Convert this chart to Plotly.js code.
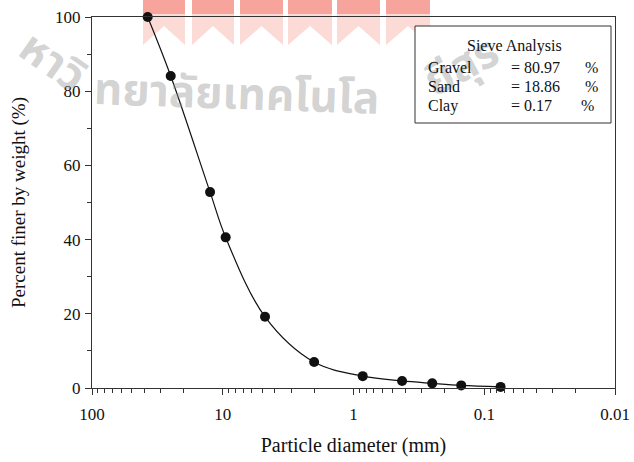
<!DOCTYPE html>
<html>
<head>
<meta charset="utf-8">
<script src="https://cdn.plot.ly/plotly-3.0.1.min.js"></script>
<style>
  html, body { margin: 0; padding: 0; background: #fff; }
  #chart { width: 634px; height: 462px; }
</style>
</head>
<body>
<div id="chart"></div>
<script>
// Sieve sizes (mm) and cumulative percent passing
const sieveSizes = [37.5, 25, 12.5, 9.5, 4.75, 2.0, 0.85, 0.425, 0.25, 0.15, 0.075];
const percentFiner = [100, 84.1, 52.8, 40.6, 19.2, 7.0, 3.2, 1.9, 1.25, 0.7, 0.3];

// Soil fractions shown in the summary box
const fractionNames = ['Gravel', 'Sand', 'Clay'];
const fractionValues = ['80.97', '18.86', '0.17'];

// Tick labels for the decade ticks of the size axis
const decadeTicks = [100, 10, 1, 0.1, 0.01];
const decadeLabels = ['100', '10', '1', '0.1', '0.01'];

const W = 634, H = 462;
const M = { l: 92, r: 19, t: 17, b: 74 };
const plotW = W - M.l - M.r, plotH = H - M.t - M.b;
// pixel -> paper helpers for the decorations
const px = x => (x - M.l) / plotW;
const py = y => (H - M.b - y) / plotH;

const serif = 'Liberation Serif, Times New Roman, serif';
const axisColor = '#333';

const trace = {
  x: sieveSizes,
  y: percentFiner,
  type: 'scatter',
  mode: 'lines+markers',
  line: { color: '#111', width: 1.2, shape: 'spline', smoothing: 1 },
  marker: { color: '#111', size: 10 },
  hoverinfo: 'x+y',
  cliponaxis: false
};

// University banner pennants along the top edge
function pennant(x0, x1, yTop, ySide, yNotch) {
  const xm = (x0 + x1) / 2;
  return 'M ' + px(x0) + ',' + py(yTop) +
         ' L ' + px(x1) + ',' + py(yTop) +
         ' L ' + px(x1) + ',' + py(ySide) +
         ' L ' + px(xm) + ',' + py(yNotch) +
         ' L ' + px(x0) + ',' + py(ySide) + ' Z';
}
const pennantCols = [[143, 185], [192, 234], [240, 283], [288, 332], [337, 380], [386, 430]];
const shapes = [];
pennantCols.forEach(c => {
  shapes.push({
    type: 'path', xref: 'paper', yref: 'paper', layer: 'below',
    path: pennant(c[0], c[1], -5, 45, 26),
    fillcolor: 'rgba(246,140,128,0.32)', line: { width: 0 }
  });
  shapes.push({
    type: 'rect', xref: 'paper', yref: 'paper', layer: 'below',
    x0: px(c[0]), x1: px(c[1]), y0: py(14), y1: py(-5),
    fillcolor: 'rgba(240,80,62,0.38)', line: { width: 0 }
  });
});

// Summary box
shapes.push({
  type: 'rect', xref: 'paper', yref: 'paper', layer: 'above',
  x0: px(415), x1: px(611), y0: py(123), y1: py(26),
  fillcolor: '#fff', line: { color: '#333', width: 1 }
});

const wmFont = { family: 'Noto Sans Thai, Noto Sans, DejaVu Sans, sans-serif', size: 44, color: 'rgba(150,150,150,0.42)', weight: 'bold' };
const annotations = [
  { text: 'หาวิ', x: px(52), y: py(62), textangle: 35 },
  { text: 'ทยาลัยเทคโนโล', x: px(236), y: py(95), textangle: 2 },
  { text: 'ยีสุร', x: px(462), y: py(68), textangle: -28 }
].map(a => Object.assign({ xref: 'paper', yref: 'paper', showarrow: false, font: wmFont,
  xanchor: 'center', yanchor: 'middle' }, a));

const boxFont = { family: serif, size: 16, color: '#111' };
annotations.push({
  text: 'Sieve Analysis', x: px(514), y: py(46), xref: 'paper', yref: 'paper',
  showarrow: false, font: boxFont, xanchor: 'center', yanchor: 'middle'
});
const rowY = [68, 87, 106];
fractionNames.forEach((name, i) => {
  annotations.push({ text: name, x: px(426), y: py(rowY[i]), xref: 'paper', yref: 'paper',
    showarrow: false, font: boxFont, xanchor: 'left', yanchor: 'middle' });
  annotations.push({ text: '= ' + fractionValues[i], x: px(509), y: py(rowY[i]), xref: 'paper', yref: 'paper',
    showarrow: false, font: boxFont, xanchor: 'left', yanchor: 'middle' });
  annotations.push({ text: '%', x: px(i === 2 ? 579 : 583), y: py(rowY[i]), xref: 'paper', yref: 'paper',
    showarrow: false, font: boxFont, xanchor: 'left', yanchor: 'middle' });
});

const layout = {
  width: W, height: H,
  margin: M,
  paper_bgcolor: '#fff',
  plot_bgcolor: 'rgba(0,0,0,0)',
  showlegend: false,
  font: { family: serif, size: 17, color: '#111' },
  xaxis: {
    type: 'log',
    range: [2, -2],
    tickmode: 'array',
    tickvals: decadeTicks,
    ticktext: decadeLabels,
    ticks: 'outside', ticklen: 6, tickwidth: 1, tickcolor: axisColor,
    ticklabelstandoff: 5,
    minor: { ticks: 'outside', ticklen: 4, tickwidth: 1, tickcolor: axisColor, dtick: 'D1', showgrid: false },
    showline: true, linecolor: axisColor, linewidth: 1, mirror: true,
    showgrid: false, zeroline: false,
    tickfont: { family: serif, size: 17, color: '#111' },
    title: { text: 'Particle diameter (mm)', font: { family: serif, size: 20, color: '#111' }, standoff: 14 }
  },
  yaxis: {
    range: [0, 100],
    dtick: 20,
    ticks: 'outside', ticklen: 6, tickwidth: 1, tickcolor: axisColor,
    ticklabelstandoff: 1,
    minor: { ticks: 'outside', ticklen: 4, tickwidth: 1, tickcolor: axisColor, dtick: 10, showgrid: false },
    showline: true, linecolor: axisColor, linewidth: 1, mirror: true,
    showgrid: false, zeroline: false,
    tickfont: { family: serif, size: 17, color: '#111' },
    title: { text: 'Percent finer by weight (%)', font: { family: serif, size: 19, color: '#111' }, standoff: 24 }
  },
  shapes: shapes,
  annotations: annotations
};

Plotly.newPlot('chart', [trace], layout, { displayModeBar: false, staticPlot: true });
</script>
</body>
</html>
